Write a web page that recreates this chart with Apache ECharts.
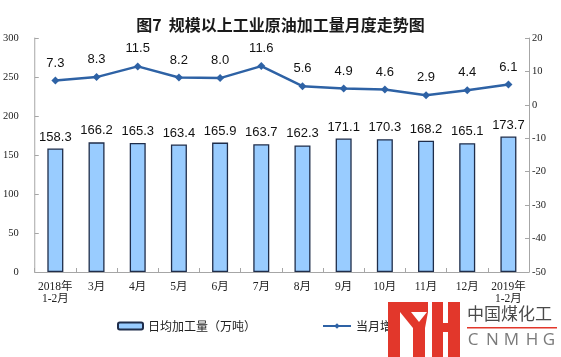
<!DOCTYPE html>
<html>
<head>
<meta charset="utf-8">
<script src="https://cdn.jsdelivr.net/npm/echarts@6/dist/echarts.min.js"></script>
<style>
html,body{margin:0;padding:0;background:#fff;}
#c{width:561px;height:357px;}
</style>
</head>
<body>
<div id="c"></div>
<script>
var categories = ['2018年\n1-2月','3月','4月','5月','6月','7月','8月','9月','10月','11月','12月','2019年\n1-2月'];
var dailyOutput = [158.3,166.2,165.3,163.4,165.9,163.7,162.3,171.1,170.3,168.2,165.1,173.7];
var monthlyGrowth = [7.3,8.3,11.5,8.2,8.0,11.6,5.6,4.9,4.6,2.9,4.4,6.1];
var seriesNames = ['日均加工量（万吨）','当月增速（%）'];
var titleText = '图7  规模以上工业原油加工量月度走势图';

var chart = echarts.init(document.getElementById('c'), null, {renderer:'canvas'});
var axisGray = '#A6A6A6';
var red = '#E2372B';
var option = {
  animation:false,
  backgroundColor:'#fff',
  title:{
    text:titleText, left:'center', top:12,
    textStyle:{fontFamily:'Noto Sans CJK SC', fontSize:16, fontWeight:'bold', color:'#1a1a1a'}
  },
  legend:[
    {data:[seriesNames[0]], left:117, top:320, padding:0, itemWidth:25, itemHeight:7, itemGap:6,
     textStyle:{fontFamily:'Noto Sans CJK SC', fontSize:12, color:'#222'}},
    {data:[seriesNames[1]], left:322, top:320, padding:0, itemWidth:28, itemHeight:7,
     textStyle:{fontFamily:'Noto Sans CJK SC', fontSize:12, color:'#222'}}
  ],
  grid:{left:34, right:32, top:38, bottom:85},
  xAxis:{
    type:'category', data:categories,
    axisLine:{lineStyle:{color:axisGray}},
    axisTick:{show:true, inside:true, length:4, lineStyle:{color:axisGray}},
    axisLabel:{interval:0, margin:9, fontFamily:'Liberation Serif, Noto Sans CJK SC', fontSize:11.5, lineHeight:12, color:'#222'}
  },
  yAxis:[
    {type:'value', min:0, max:300, interval:50,
     axisLine:{show:true, lineStyle:{color:axisGray}},
     axisTick:{show:true, inside:true, length:4, lineStyle:{color:axisGray}},
     splitLine:{show:false},
     axisLabel:{margin:16, fontFamily:'Liberation Serif', fontSize:10.5, color:'#222'}},
    {type:'value', min:-50, max:20, interval:10, alignTicks:false,
     axisLine:{show:true, lineStyle:{color:axisGray}},
     axisTick:{show:true, inside:true, length:4, lineStyle:{color:axisGray}},
     splitLine:{show:false},
     axisLabel:{margin:3, fontFamily:'Liberation Serif', fontSize:10.5, color:'#222'}}
  ],
  series:[
    {name:seriesNames[0], type:'bar', data:dailyOutput, barWidth:16,
     itemStyle:{color:'#99CCFF', borderColor:'#1F2D4A', borderWidth:1.3},
     label:{show:true, position:'top', distance:5, fontFamily:'Liberation Sans', fontSize:13, color:'#111',
            formatter:function(p){return p.value.toFixed(1);}}},
    {name:seriesNames[1], type:'line', yAxisIndex:1, data:monthlyGrowth,
     symbol:'diamond', symbolSize:8,
     lineStyle:{color:'#2E62A5', width:2.5},
     itemStyle:{color:'#2E62A5'},
     label:{show:true, position:'top', distance:7, fontFamily:'Liberation Sans', fontSize:13, color:'#111',
            formatter:function(p){return p.value.toFixed(1);}}}
  ],
  graphic:[
    {type:'rect', z:100, shape:{x:388, y:304, width:173, height:53}, style:{fill:'#fff'}},
    {type:'rect', z:101, shape:{x:388, y:302, width:12, height:55}, style:{fill:red}},
    {type:'rect', z:101, shape:{x:388, y:302, width:40, height:10}, style:{fill:red}},
    {type:'polygon', z:101, shape:{points:[[400,312],[411,312],[419,322],[427,312],[428,312],[425,328],[425,357],[413,357],[413,328]]}, style:{fill:red}},
    {type:'rect', z:101, shape:{x:432, y:302, width:11, height:55}, style:{fill:red}},
    {type:'rect', z:101, shape:{x:448, y:302, width:12, height:55}, style:{fill:red}},
    {type:'rect', z:101, shape:{x:443, y:323, width:5, height:9}, style:{fill:red}},
    {type:'text', z:101, left:467, top:305, style:{text:'中国煤化工', fontFamily:'Noto Sans CJK SC', fontSize:17, fill:'#4a4a4a'}},
    {type:'rect', z:101, shape:{x:467, y:327, width:90, height:1.5}, style:{fill:red}},
    {type:'text', z:101, x:473, y:340, style:{text:'C', align:'center', verticalAlign:'middle', fontFamily:'Open Sans', fontSize:17, fill:'#7a7a7a'}},
    {type:'text', z:101, x:492.5, y:340, style:{text:'N', align:'center', verticalAlign:'middle', fontFamily:'Open Sans', fontSize:17, fill:'#7a7a7a'}},
    {type:'text', z:101, x:511.5, y:340, style:{text:'M', align:'center', verticalAlign:'middle', fontFamily:'Open Sans', fontSize:17, fill:'#7a7a7a'}},
    {type:'text', z:101, x:532, y:340, style:{text:'H', align:'center', verticalAlign:'middle', fontFamily:'Open Sans', fontSize:17, fill:'#7a7a7a'}},
    {type:'text', z:101, x:549, y:340, style:{text:'G', align:'center', verticalAlign:'middle', fontFamily:'Open Sans', fontSize:17, fill:'#7a7a7a'}}
  ]
};
chart.setOption(option);
</script>
</body>
</html>
